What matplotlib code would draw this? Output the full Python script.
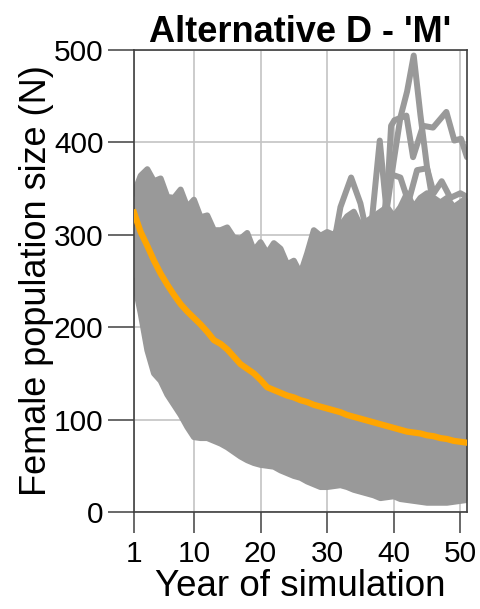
import numpy as np
import matplotlib.pyplot as plt

plt.rcParams['font.family'] = ['Liberation Sans', 'DejaVu Sans']

years = np.arange(1, 52)

# mean female population (orange line)
mean_n = [324, 303, 288, 272, 258, 246, 235, 225, 217, 210,
          203, 195, 186, 182, 176, 168, 160, 155, 150, 143,
          135, 132, 129, 126, 124, 121, 119, 116, 114, 112,
          110, 108, 105, 103, 101, 99, 97, 95, 93, 91,
          89, 87, 86, 85, 83, 82, 80, 79, 77, 76, 75]

# upper / lower edge of the dense bundle of simulations
band_hi = [345, 364, 371, 358, 361, 341, 340, 349, 330, 338,
           319, 321, 305, 305, 308, 297, 296, 302, 283, 292,
           280, 291, 285, 268, 272, 258, 280, 305, 299, 303,
           300, 310, 320, 325, 310, 315, 320, 325, 330, 320,
           330, 345, 330, 340, 345, 340, 335, 340, 330, 335, 340]
band_lo = [250, 215, 175, 150, 142, 127, 116, 105, 92, 81,
           80, 80, 77, 74, 70, 65, 60, 56, 53, 51,
           50, 49, 45, 42, 39, 37, 33, 30, 27, 27,
           28, 29, 27, 24, 22, 20, 18, 15, 16, 17,
           14, 13, 12, 11, 10, 10, 10, 10, 11, 12, 13]

# single runs sticking out of the bundle
spike_years = [
    [31, 32, 33.6, 35, 36],
    [36.5, 37.9, 39],
    [39, 40, 41, 42, 43, 44, 45, 46],
    [39, 39.6, 40.1, 41.9, 42.9, 44.4, 45.9, 47.9, 49.1, 50.1, 51],
    [42, 43.5, 45, 46, 47.2, 48.5, 50, 51],
    [38.5, 39.4, 41, 42],
]
spike_vals = [
    [290, 330, 362, 334, 300],
    [300, 402, 320],
    [330, 380, 427, 455, 494, 430, 373, 330],
    [340, 418, 424, 429, 384, 418, 416, 433, 402, 404, 384],
    [330, 370, 372, 345, 358, 340, 345, 341],
    [320, 366, 362, 340],
]

gray = '#999999'
fig = plt.figure(figsize=(4.81, 6.09), dpi=100)
ax = fig.add_axes([134/481, 97/609, 333/481, 462/609])

ax.fill_between(years, band_lo, band_hi, color=gray, lw=0, zorder=2)
ax.plot(years, band_hi, color=gray, lw=4.3, solid_joinstyle='round', zorder=2)
ax.plot(years, band_lo, color=gray, lw=4.3, solid_joinstyle='round', zorder=2)
for yy, vv in zip(spike_years, spike_vals):
    ax.plot(yy, vv, color=gray, lw=4.3, solid_joinstyle='round',
            solid_capstyle='round', zorder=2)
ax.plot(years, mean_n, color='#FFA500', lw=4.5, zorder=3)

ax.set_xlim(1, 51)
ax.set_ylim(0, 500)
ax.set_xticks([1, 10, 20, 30, 40, 50])
ax.set_yticks([0, 100, 200, 300, 400, 500])
ax.grid(color='#c4c4c4', lw=1.2)
ax.set_axisbelow(True)
for s in ax.spines.values():
    s.set_color('#404040')
    s.set_linewidth(1.2)
ax.tick_params(axis='y', length=19, width=1.1, color='#404040', labelsize=21.5, pad=3)
ax.tick_params(axis='x', length=15, width=1.1, color='#404040', labelsize=21.5, pad=5)

ax.set_title("Alternative D - 'M'", fontsize=26, fontweight='bold', pad=6)
ax.set_xlabel('Year of simulation', fontsize=26.5, labelpad=1)
ax.set_ylabel('Female population size (N)', fontsize=26, labelpad=0)

fig.savefig('out.png', dpi=100)
